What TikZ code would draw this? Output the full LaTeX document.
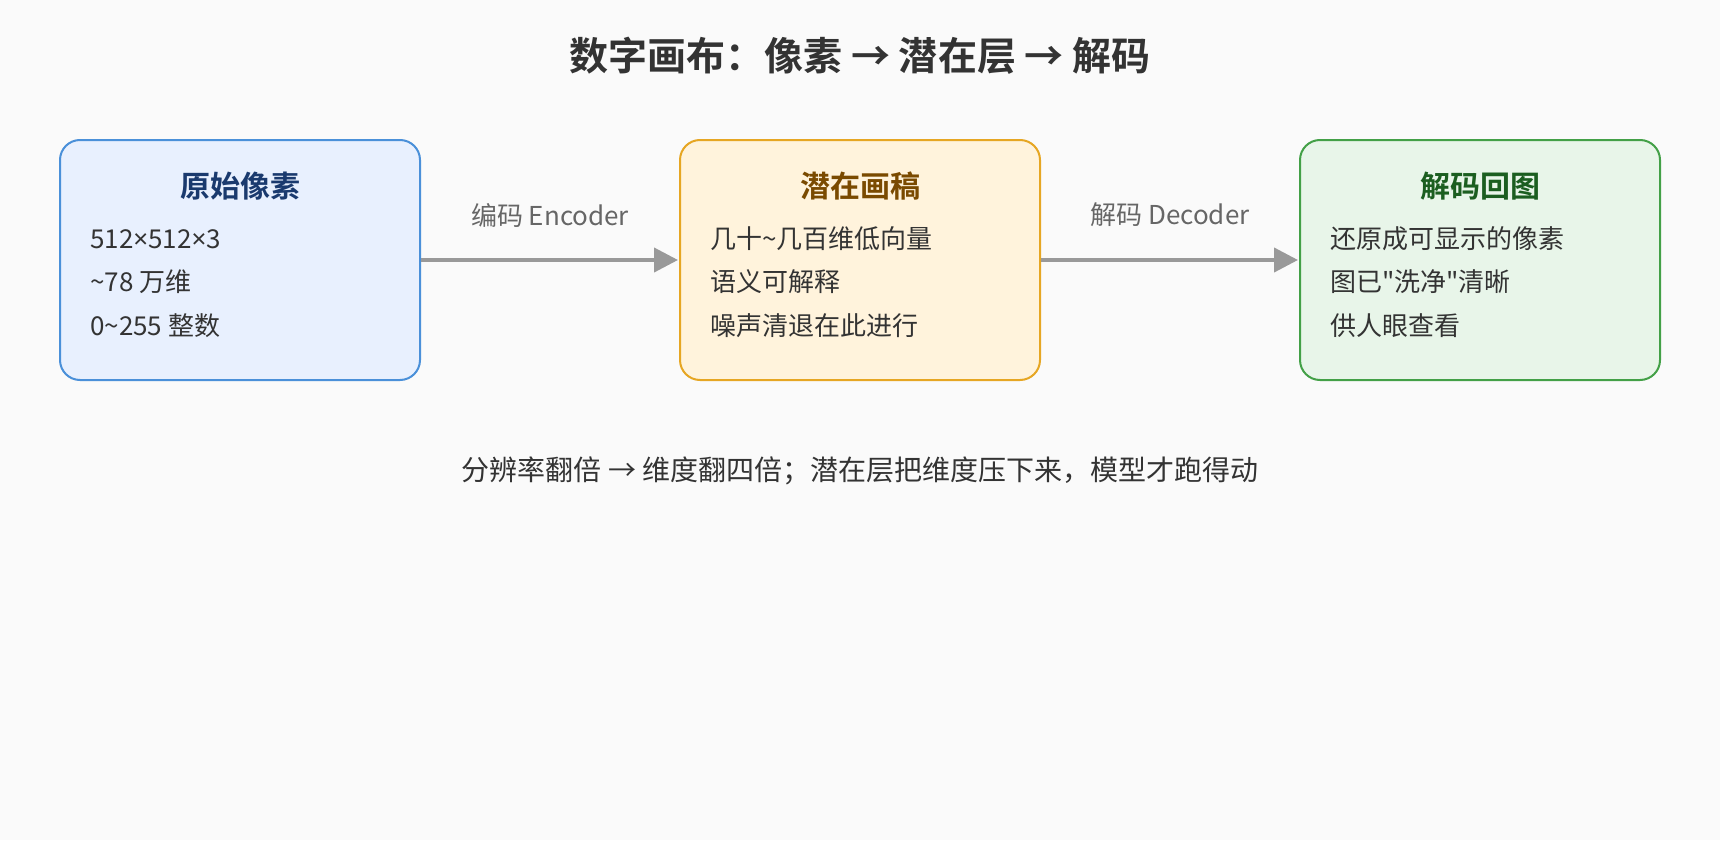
\documentclass[tikz,border=0pt]{standalone}
\usepackage{fontspec}
\setmainfont{Noto Sans CJK SC}[Ligatures=TeXOff]
\newfontfamily\cjkbold{Noto Sans CJK SC Bold}[Ligatures=TeXOff]
\newfontfamily\latinsym{Noto Sans}
\usetikzlibrary{arrows.meta}
\definecolor{bgc}{HTML}{FAFAFA}
\definecolor{txt}{HTML}{333333}
\definecolor{lbl}{HTML}{666666}
\definecolor{arrc}{HTML}{999999}
\definecolor{bluefill}{HTML}{E8F0FE}
\definecolor{blueline}{HTML}{4A90D9}
\definecolor{bluetitle}{HTML}{1A3A6E}
\definecolor{orfill}{HTML}{FFF3DC}
\definecolor{orline}{HTML}{E6A623}
\definecolor{ortitle}{HTML}{7A4A00}
\definecolor{grfill}{HTML}{E8F5E9}
\definecolor{grline}{HTML}{43A047}
\definecolor{grtitle}{HTML}{1B5E20}
\tikzset{
  x=1pt,y=-1pt,
  card/.style={draw, line width=2pt, rounded corners=20pt, minimum width=360pt, minimum height=240pt, inner sep=0pt},
  cardtitle/.style={font=\cjkbold\fontsize{30}{30}\selectfont, inner sep=0pt},
  bodyline/.style={anchor=west, font=\fontsize{26}{26}\selectfont, text=txt, inner sep=0pt},
  edgelabel/.style={font=\fontsize{26}{26}\selectfont, text=lbl, inner sep=0pt},
  flow/.style={draw=arrc, line width=4pt, -{Triangle[length=24pt,width=24pt]}, shorten >=1pt},
}
\begin{document}
\begin{tikzpicture}
\useasboundingbox[fill=bgc] (0,0) rectangle (1720,840);
\node[font=\cjkbold\fontsize{39}{39}\selectfont, text=txt, inner sep=0pt] (title) at (860,56) {数字画布：像素 → 潜在层 → 解码};

\node[card, fill=bluefill, draw=blueline] (b1) at (240,260) {};
\node[card, fill=orfill, draw=orline] (b2) at (860,260) {};
\node[card, fill=grfill, draw=grline] (b3) at (1480,260) {};

\node[cardtitle, text=bluetitle] (t1) at (240,186) {原始像素};
\node[bodyline] (l11) at (90,239) {512{\latinsym ×}512{\latinsym ×}3};
\node[bodyline] (l12) at (90,282) {\textasciitilde 78 万维};
\node[bodyline] (l13) at (90,326) {0\textasciitilde 255 整数};

\node[cardtitle, text=ortitle] (t2) at (860,186) {潜在画稿};
\node[bodyline] (l21) at (710,239) {几十\textasciitilde 几百维低向量};
\node[bodyline] (l22) at (710,282) {语义可解释};
\node[bodyline] (l23) at (710,326) {噪声清退在此进行};

\node[cardtitle, text=grtitle] (t3) at (1480,186) {解码回图};
\node[bodyline] (l31) at (1330,239) {还原成可显示的像素};
\node[bodyline] (l32) at (1330,282) {图已"洗净"清晰};
\node[bodyline] (l33) at (1330,326) {供人眼查看};

\draw[flow] (b1.east) -- (b2.west);
\draw[flow] (b2.east) -- (b3.west);
\node[edgelabel] (e1) at (550,215) {编码 Encoder};
\node[edgelabel] (e2) at (1170,215) {解码 Decoder};

\node[font=\fontsize{28}{28}\selectfont, text=txt, inner sep=0pt] (note) at (860,471) {分辨率翻倍 → 维度翻四倍；潜在层把维度压下来，模型才跑得动};
\end{tikzpicture}
\end{document}
